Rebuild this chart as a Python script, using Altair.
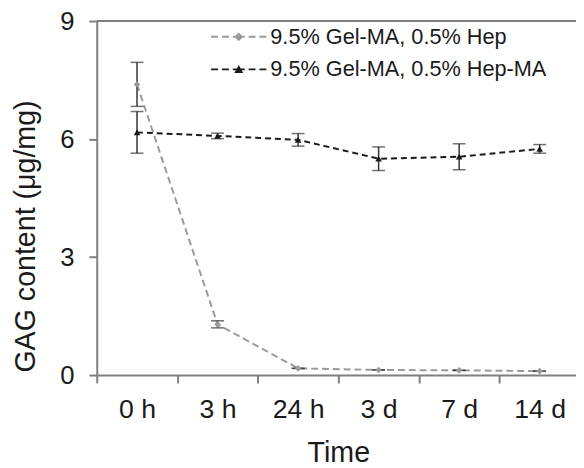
import altair as alt
import pandas as pd

times = ["0 h", "3 h", "24 h", "3 d", "7 d", "14 d"]
series_names = ["9.5% Gel-MA, 0.5% Hep", "9.5% Gel-MA, 0.5% Hep-MA"]
hep_mean = [7.39, 1.29, 0.17, 0.13, 0.12, 0.10]
hep_err = [0.56, 0.09, 0.0, 0.0, 0.0, 0.0]
hepma_mean = [6.17, 6.08, 5.98, 5.50, 5.55, 5.75]
hepma_err = [0.53, 0.07, 0.16, 0.30, 0.33, 0.11]
y_ticks = [0, 3, 6, 9]

colors = ["#9a9a9a", "#1a1a1a"]
FONT = "Liberation Sans"
PLOT_H = 359


def frame(mean, err):
    df = pd.DataFrame({"time": times, "mean": mean, "err": err})
    df["lo"] = df["mean"] - df["err"]
    df["hi"] = df["mean"] + df["err"]
    return df


hep = frame(hep_mean, hep_err)
hepma = frame(hepma_mean, hepma_err)

xscale = alt.Scale(domain=times, range=[0, 490])
yscale = alt.Scale(domain=[0, 9])

x_enc = alt.X(
    "time:N",
    scale=xscale,
    sort=times,
    title="Time",
    axis=alt.Axis(
        tickBand="extent",
        labelAngle=0,
        labelFontSize=27,
        labelPadding=14,
        titleFontSize=29,
        titlePadding=17,
        tickSize=8,
        grid=False,
    ),
)
y_enc = alt.Y(
    "mean:Q",
    scale=yscale,
    title="GAG content (μg/mg)",
    axis=alt.Axis(
        values=y_ticks,
        labelFontSize=26,
        labelPadding=15,
        labelOffset=1,
        titleFontSize=29,
        titlePadding=20,
        titleY=218,
        tickSize=8,
        grid=False,
    ),
)


def series_layers(df, color, dash, shape):
    base = alt.Chart(df)
    line = base.mark_line(color=color, strokeWidth=2, strokeDash=dash).encode(x=x_enc, y=y_enc)
    rule = base.mark_rule(color="#333333", strokeWidth=1.5).encode(
        x=alt.X("time:N", scale=xscale, sort=times),
        y=alt.Y("lo:Q", scale=yscale),
        y2="hi:Q",
    )
    cap_lo = base.mark_tick(color="#333333", orient="horizontal", size=13, thickness=1.5).encode(
        x=alt.X("time:N", scale=xscale, sort=times), y=alt.Y("lo:Q", scale=yscale)
    )
    cap_hi = base.mark_tick(color="#333333", orient="horizontal", size=13, thickness=1.5).encode(
        x=alt.X("time:N", scale=xscale, sort=times), y=alt.Y("hi:Q", scale=yscale)
    )
    pts = base.mark_point(filled=True, color=color, shape=shape, size=45, opacity=1).encode(
        x=alt.X("time:N", scale=xscale, sort=times), y=alt.Y("mean:Q", scale=yscale)
    )
    return [line, rule, cap_lo, cap_hi, pts]


# legend symbols: dashed line with marker in centre; path units = 15 px
U = 15.0
def seg(a, b, hh=1.0):
    a, b, hh = a / U, b / U, hh / U
    return f"M{a:.3f},{-hh:.3f}L{b:.3f},{-hh:.3f}L{b:.3f},{hh:.3f}L{a:.3f},{hh:.3f}Z"

dashes = seg(-28, -21) + seg(-17, -10) + seg(-6, 6) + seg(10, 17) + seg(21, 28)
r = 4.5 / U
diamond = f"M0,{-r:.3f}L{r:.3f},0L0,{r:.3f}L{-r:.3f},0Z"
triangle = f"M0,{-r:.3f}L{r:.3f},{r*0.8:.3f}L{-r:.3f},{r*0.8:.3f}Z"
legend_df = pd.DataFrame({"series": series_names, "time": ["0 h", "0 h"], "mean": [-5, -5]})
legend_layer = alt.Chart(legend_df).mark_point(filled=True, opacity=1, clip=True).encode(
    x=alt.X("time:N", scale=xscale, sort=times),
    y=alt.Y("mean:Q", scale=yscale),
    color=alt.Color(
        "series:N",
        scale=alt.Scale(domain=series_names, range=colors),
        legend=alt.Legend(
            title=None,
            orient="none",
            legendX=129,
            legendY=1,
            labelFontSize=22,
            labelFont=FONT,
            labelColor="#1a1a1a",
            labelLimit=0,
            symbolSize=U * U * 4,
            symbolStrokeWidth=0,
            labelOffset=17,
            rowPadding=7,
            padding=0,
        ),
    ),
    shape=alt.Shape(
        "series:N",
        scale=alt.Scale(domain=series_names, range=[dashes + diamond, dashes + triangle]),
    ),
)

top_rule = alt.Chart(pd.DataFrame({"v": [9]})).mark_rule(color="#7f7f7f", strokeWidth=2).encode(
    y=alt.Y("v:Q", scale=yscale)
)

layers = (
    series_layers(hep, colors[0], [7, 4], "diamond")
    + series_layers(hepma, colors[1], [6, 4], "triangle-up")
    + [legend_layer, top_rule]
)

chart = (
    alt.layer(*layers)
    .properties(
        width=486,
        height=PLOT_H,
        autosize=alt.AutoSizeParams(type="none"),
        padding={"left": 90, "top": 10, "right": 0, "bottom": 90},
    )
    .configure_view(stroke=None)
    .configure_axis(
        domainColor="#7f7f7f",
        domainWidth=2,
        tickColor="#7f7f7f",
        tickWidth=2,
        labelColor="#1a1a1a",
        titleColor="#1a1a1a",
        labelFont=FONT,
        titleFont=FONT,
        titleFontWeight="normal",
    )
)

chart.save("out.html", embed_options={"renderer": "svg", "actions": False})
